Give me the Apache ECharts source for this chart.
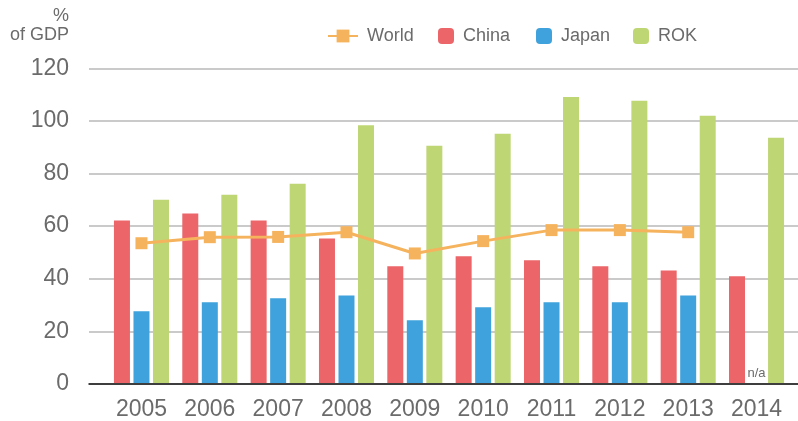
<!DOCTYPE html>
<html>
<head>
<meta charset="utf-8">
<script src="https://cdn.jsdelivr.net/npm/echarts@6/dist/echarts.min.js"></script>
<style>
  html, body { margin: 0; padding: 0; background: #fff; }
  #chart { width: 798px; height: 421px; }
</style>
</head>
<body>
<div id="chart"></div>
<script>
// data
const years = ['2005','2006','2007','2008','2009','2010','2011','2012','2013','2014']
const world = [53.3, 55.6, 55.7, 57.5, 49.4, 54.1, 58.3, 58.3, 57.5, null]
const china = [62.0, 64.6, 62.0, 55.1, 44.5, 48.3, 46.8, 44.5, 42.9, 40.7]
const japan = [27.4, 30.8, 32.3, 33.4, 23.9, 28.9, 30.8, 30.8, 33.4, null]
const rok = [69.9, 71.8, 76.0, 98.3, 90.5, 95.0, 109.1, 107.6, 101.9, 93.5]
const yTicks = [0, 20, 40, 60, 80, 100, 120]

const FONT = 'Liberation Sans'
const GREY = '#6b6b6b'
const colors = { World: '#F6B35D', China: '#EB6569', Japan: '#3FA2DC', ROK: '#BFD675' }

// missing japan value gets an "n/a" label at the baseline
const japanData = japan.map(v => v === null ? {
  value: 0,
  label: { show: true, formatter: 'n/a', position: 'top', distance: 3,
    fontFamily: FONT, fontSize: 13, color: GREY }
} : v)

function legendAt(name, left, w) {
  return {
    data: [name], left: left, top: 27,
    itemWidth: w, itemHeight: 16, padding: 0,
    textStyle: { fontFamily: FONT, fontSize: 18, color: GREY, padding: [0, 0, 0, 4] }
  }
}

const chart = echarts.init(document.getElementById('chart'))
chart.setOption({
  animation: false,
  legend: [
    legendAt('World', 327, 30),
    legendAt('China', 438, 16),
    legendAt('Japan', 536, 16),
    legendAt('ROK', 633, 16)
  ],
  grid: [
    { left: 89, right: 0, top: 68.3, bottom: 37 },
    { left: 107.3, right: 7.3, top: 68.3, bottom: 37 }
  ],
  xAxis: [
    {
      gridIndex: 0, type: 'value', min: 0, max: 1,
      axisLine: { show: true, lineStyle: { color: '#111', width: 1.5 } },
      axisTick: { show: false }, axisLabel: { show: false }, splitLine: { show: false }
    },
    {
      gridIndex: 1, type: 'category', data: years,
      axisLine: { show: false }, axisTick: { show: false },
      axisLabel: { fontFamily: FONT, fontSize: 23, color: GREY, margin: 15 }
    }
  ],
  yAxis: [
    {
      gridIndex: 0, type: 'value', min: 0, max: 120, interval: 20,
      name: '%\nof GDP', nameLocation: 'end', nameGap: 24,
      nameTextStyle: { fontFamily: FONT, fontSize: 18, lineHeight: 19, color: GREY,
        align: 'right', verticalAlign: 'bottom', padding: [0, 20, 0, 0] },
      axisLine: { show: false }, axisTick: { show: false },
      axisLabel: { fontFamily: FONT, fontSize: 23, color: GREY, margin: 20,
        formatter: v => yTicks.includes(v) ? String(v) : '' },
      splitLine: { lineStyle: { color: '#b8b8b8', width: 1.5 } }
    },
    {
      gridIndex: 1, type: 'value', min: 0, max: 120, show: false
    }
  ],
  series: [
    {
      name: 'China', type: 'bar', xAxisIndex: 1, yAxisIndex: 1,
      data: china, barWidth: 16, barGap: '22%',
      itemStyle: { color: colors.China }
    },
    {
      name: 'Japan', type: 'bar', xAxisIndex: 1, yAxisIndex: 1,
      data: japanData, barWidth: 16, barGap: '22%',
      itemStyle: { color: colors.Japan }
    },
    {
      name: 'ROK', type: 'bar', xAxisIndex: 1, yAxisIndex: 1,
      data: rok, barWidth: 16, barGap: '22%',
      itemStyle: { color: colors.ROK }
    },
    {
      name: 'World', type: 'line', xAxisIndex: 1, yAxisIndex: 1,
      data: world, z: 5,
      symbol: 'rect', symbolSize: 12, showSymbol: true,
      lineStyle: { color: colors.World, width: 3 },
      itemStyle: { color: colors.World }
    }
  ]
})
</script>
</body>
</html>
